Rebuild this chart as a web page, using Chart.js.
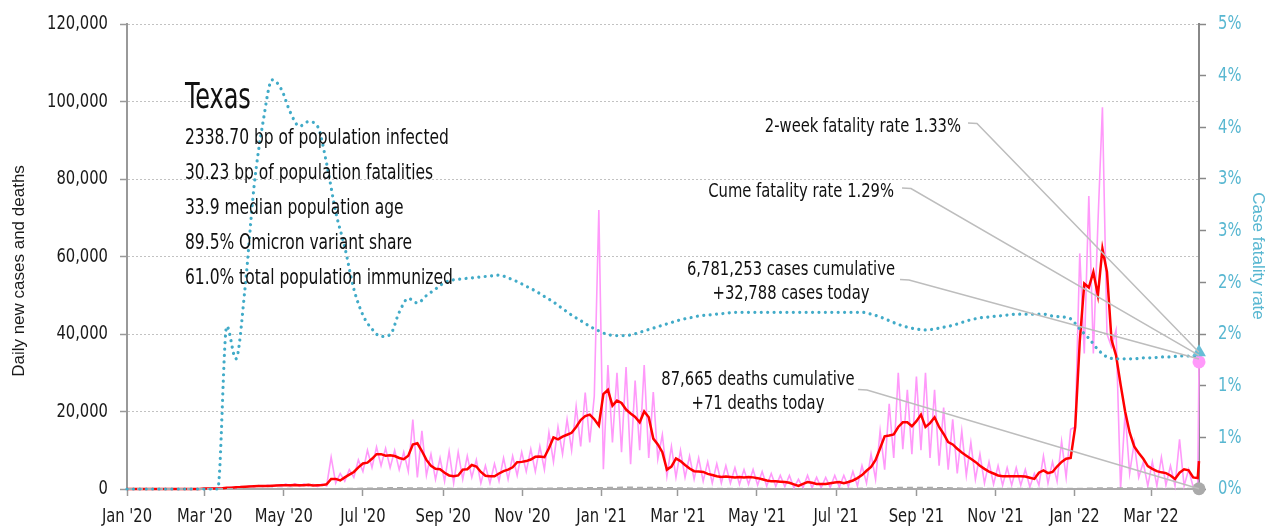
<!DOCTYPE html>
<html>
<head>
<meta charset="utf-8">
<title>Texas</title>
<script src="https://cdn.jsdelivr.net/npm/chart.js@4.4.1/dist/chart.umd.min.js"></script>
<style>
  html, body { margin: 0; padding: 0; background: #fff; }
  canvas { display: block; }
</style>
</head>
<body>
<canvas id="myChart" width="1278" height="529"></canvas>
<script>
const FONT = "'Liberation Sans Narrow', 'DejaVu Sans Condensed', Roboto, sans-serif";
const TITLE_FONT = "'Liberation Sans', Arial, sans-serif";
// the original face is a narrow grotesque, so most text is squeezed a little
const SQUEEZE = 0.82;

// x axis
const tickDates = ['2020-01-01', '2020-03-01', '2020-05-01', '2020-07-01', '2020-09-01', '2020-11-01', '2021-01-01',
    '2021-03-01', '2021-05-01', '2021-07-01', '2021-09-01', '2021-11-01', '2022-01-01', '2022-03-01'];
const tickLabels = ["Jan '20", "Mar '20", "May '20", "Jul '20", "Sep '20", "Nov '20", "Jan '21",
    "Mar '21", "May '21", "Jul '21", "Sep '21", "Nov '21", "Jan '22", "Mar '22"];
const caseTicks = [0, 20000, 40000, 60000, 80000, 100000, 120000];
const rateTickLabels = ['0%', '1%', '1%', '2%', '2%', '3%', '3%', '4%', '4%', '5%'];
const leftTitle = 'Daily new cases and deaths';
const rightTitle = 'Case fatality rate';

// series start on this date; cases are every half week, deaths and rate every week
const seriesStart = '2020-01-01';
const lastDate = '2022-04-07';

// daily new cases (weekly highs and lows, one every half week)
const dailyCases = [
    0, 0, 0, 0, 0, 0, 0, 0, 0, 0,
    0, 0, 0, 0, 0, 0, 0, 100, 50, 150,
    100, 250, 200, 450, 300, 600, 450, 800, 550, 900,
    600, 1000, 600, 1100, 700, 1300, 700, 1400, 700, 1300,
    800, 1200, 600, 1300, 800, 8200, 1500, 4000, 2000, 5000,
    3000, 7500, 4500, 10000, 5500, 10800, 6000, 10500, 5500, 10000,
    5000, 9500, 4500, 17900, 3000, 15000, 3500, 9000, 2500, 8000,
    2000, 9700, 1500, 9500, 2500, 8500, 3000, 7500, 1500, 6000,
    1500, 6500, 2000, 8000, 2500, 8500, 3500, 9500, 4500, 10300,
    4500, 11000, 5000, 14600, 7000, 16000, 9000, 18000, 10000, 21300,
    11000, 24900, 12000, 24000, 72000, 5100, 32000, 12000, 30000, 9500,
    31500, 6400, 28000, 10000, 32000, 8000, 25000, 7700, 14000, 3300,
    11000, 3000, 10000, 3000, 8500, 2500, 8000, 2000, 7000, 1500,
    6500, 1500, 6000, 1500, 5500, 1200, 5000, 1200, 5000, 1000,
    4500, 800, 4000, 700, 3500, 600, 3500, 300, 2500, 300,
    3500, 300, 3000, 300, 3000, 400, 3500, 500, 3500, 600,
    4500, 800, 6000, 1500, 9000, 2500, 15000, 5000, 22000, 8000,
    30000, 10300, 25600, 9000, 29000, 10000, 30000, 8000, 25600, 6000,
    21000, 5000, 18000, 4000, 15000, 3500, 12000, 2500, 9000, 1500,
    7000, 1200, 6000, 1000, 5500, 1000, 5500, 1000, 5000, 500,
    4000, 1000, 8500, 1500, 7000, 2000, 12300, 3000, 15400, 16000,
    60800, 35000, 75600, 35000, 68300, 98500, 40000, 36700, 41000, 0,
    19700, 4000, 12000, 3000, 6900, 800, 7000, 800, 8200, 1000,
    6000, 800, 12800, 800, 5000, 500, 500
];

// 7-day average of new cases, every half week
const avgCases = [
    0, 0, 0, 0, 0, 0, 0, 0, 0, 0,
    0, 0, 0, 0, 0, 0, 0, 100, 100, 100,
    150, 200, 300, 350, 450, 500, 600, 650, 700, 750,
    800, 800, 850, 900, 950, 1000, 1000, 1050, 1000, 1000,
    1100, 900, 950, 1000, 1200, 2600, 2600, 2200, 3000, 3700,
    4400, 5600, 6600, 6800, 7800, 9000, 9000, 8600, 8700, 8500,
    8000, 7700, 8600, 11500, 11800, 9800, 7500, 6000, 5200, 5100,
    4200, 3500, 3300, 3500, 5000, 5100, 6200, 5800, 4400, 3400,
    3300, 3300, 4000, 4600, 5000, 5600, 6900, 7000, 7200, 7600,
    8300, 8400, 8200, 10500, 13300, 12800, 13500, 14000, 14500, 16000,
    17800, 18800, 19200, 18000, 16400, 24500, 25600, 21500, 22800, 22200,
    20500, 19500, 18600, 17200, 20000, 18500, 13000, 11500, 9500, 5000,
    5800, 7900, 7200, 6200, 5300, 4600, 4500, 4400, 3900, 3600,
    3300, 3100, 3200, 3100, 3000, 3100, 3000, 3100, 3000, 2800,
    2500, 2200, 2000, 2000, 1900, 1800, 1600, 1200, 800, 1300,
    1800, 1600, 1300, 1300, 1300, 1500, 1700, 1800, 1500, 1800,
    2200, 2800, 3600, 4700, 5700, 7500, 10500, 13600, 13800, 14100,
    16000, 17200, 17200, 16200, 17500, 19200, 16000, 17000, 18500, 16000,
    14200, 12100, 11500, 10400, 9400, 8600, 7800, 7000, 6000, 5200,
    4500, 4000, 3500, 3300, 3300, 3300, 3300, 3300, 3200, 2900,
    2600, 4200, 4800, 4100, 4400, 5800, 7000, 7800, 8000, 16000,
    38000, 53000, 52000, 56000, 50000, 62000, 56000, 38500, 34500, 27000,
    20000, 14600, 11000, 9300, 7800, 5900, 5200, 4600, 4300, 4100,
    3500, 2600, 4200, 5100, 4800, 3000, 2800
];

// daily deaths, weekly
const weeklyDeaths = [
    0, 0, 0, 0, 0, 0, 0, 0, 0, 0, 0,
    5, 15, 30, 40, 45, 40, 35, 35, 30, 25,
    25, 30, 30, 40, 60, 100, 150, 180, 250, 230,
    220, 200, 170, 130, 110, 90, 80, 70, 65, 60,
    60, 65, 70, 80, 100, 120, 150, 180, 200, 220,
    240, 260, 320, 350, 380, 350, 330, 310, 290, 250,
    200, 150, 120, 90, 70, 60, 50, 45, 40, 35,
    30, 30, 25, 25, 25, 25, 25, 30, 40, 60,
    100, 150, 200, 250, 300, 330, 350, 350, 300, 250,
    200, 160, 130, 110, 90, 80, 70, 60, 55, 50,
    50, 50, 50, 60, 80, 120, 170, 200, 220, 210,
    180, 140, 100, 80, 60, 50, 40, 40
];

// case fatality rate in percent, weekly
const fatalityRate = [
    0, 0, 0, 0, 0, 0, 0, 0, 0, 0, 0,
    1.75, 1.4, 2.15, 3.25, 3.95, 4.4, 4.3, 4.05, 3.9, 3.95,
    3.9, 3.5, 2.98, 2.6, 2.15, 1.87, 1.72, 1.64, 1.66, 1.9,
    2.05, 2.0, 2.08, 2.15, 2.22, 2.25, 2.26, 2.27, 2.28, 2.29,
    2.3, 2.27, 2.23, 2.18, 2.13, 2.07, 2.01, 1.94, 1.87, 1.81,
    1.75, 1.7, 1.66, 1.65, 1.65, 1.67, 1.7, 1.73, 1.76, 1.79,
    1.82, 1.84, 1.86, 1.87, 1.88, 1.89, 1.9, 1.9, 1.9, 1.9,
    1.9, 1.9, 1.9, 1.9, 1.9, 1.9, 1.9, 1.9, 1.9, 1.9,
    1.9, 1.88, 1.85, 1.81, 1.77, 1.74, 1.72, 1.71, 1.72, 1.74,
    1.76, 1.79, 1.82, 1.84, 1.85, 1.86, 1.87, 1.88, 1.88, 1.88,
    1.88, 1.86, 1.85, 1.83, 1.72, 1.62, 1.5, 1.42, 1.4, 1.4,
    1.4, 1.41, 1.41, 1.42, 1.42, 1.43, 1.43, 1.43
];

// values on the last day
const lastCases = 32788;
const lastAvg = 7200;
const lastDeaths = 71;
const lastRate = 1.47;

const stateName = 'Texas';
const infoLines = [
    '2338.70 bp of population infected',
    '30.23 bp of population fatalities',
    '33.9 median population age',
    '89.5% Omicron variant share',
    '61.0% total population immunized'
];

const PINK = '#ff99fa';
const RED = '#ff0000';
const TEAL = '#41abc8';
const TEAL_LIGHT = '#58b7d1';
const GRAY = '#aaaaaa';

const dayOf = s => {
    const p = s.split('-').map(Number);
    return (Date.UTC(p[0], p[1] - 1, p[2]) - Date.UTC(2020, 0, 1)) / 864e5;
};
const firstDay = dayOf(seriesStart);
const lastDay = dayOf(lastDate);
const onGrid = (vals, step) => vals.map((v, i) => ({ x: firstDay + i * step, y: v }));

const casePts = onGrid(dailyCases, 3.5).concat([{ x: lastDay, y: lastCases }]);
const avgPts = onGrid(avgCases, 3.5).concat([{ x: lastDay, y: lastAvg }]);
const deathPts = onGrid(weeklyDeaths, 7).concat([{ x: lastDay, y: lastDeaths }]);
const ratePts = onGrid(fatalityRate, 7);

const fmt = v => String(Math.round(v)).replace(/\B(?=(\d{3})+(?!\d))/g, ',');

Chart.defaults.font.family = FONT;
Chart.defaults.color = '#1a1a1a';

const ctx = document.getElementById('myChart').getContext('2d');

// narrow text: squeeze every string horizontally around its anchor
const rawFill = ctx.fillText.bind(ctx);
const rawMeasure = ctx.measureText.bind(ctx);
ctx.fillText = function (t, x, y, maxW) {
    this.save();
    this.translate(x, y);
    this.scale(SQUEEZE, 1);
    if (maxW === undefined) rawFill(t, 0, 0);
    else rawFill(t, 0, 0, maxW / SQUEEZE);
    this.restore();
};
ctx.measureText = function (t) {
    const m = rawMeasure(t);
    return {
        width: m.width * SQUEEZE,
        actualBoundingBoxAscent: m.actualBoundingBoxAscent,
        actualBoundingBoxDescent: m.actualBoundingBoxDescent,
        actualBoundingBoxLeft: m.actualBoundingBoxLeft * SQUEEZE,
        actualBoundingBoxRight: m.actualBoundingBoxRight * SQUEEZE
    };
};

const notes = {
    id: 'notes',
    afterDatasetsDraw(chart) {
        const c = chart.ctx;
        const { x, y, y2 } = chart.scales;
        const ex = x.getPixelForValue(lastDay);
        const triY = y2.getPixelForValue(lastRate);
        const caseY = y.getPixelForValue(lastCases);
        const deathY = y.getPixelForValue(lastDeaths);

        c.save();
        c.strokeStyle = '#bdbdbd';
        c.lineWidth = 1.5;
        const lead = (x0, y0, x1, y1) => {
            c.beginPath();
            c.moveTo(x0, y0);
            c.lineTo(x0 + 9, y0 + 0.5);
            c.lineTo(x1, y1);
            c.stroke();
        };
        lead(968, 123, ex, triY);
        lead(902, 188, ex, triY + 3);
        lead(900, 279.5, ex, caseY - 3);
        lead(858, 389.5, ex, deathY);

        c.fillStyle = '#111';
        c.textBaseline = 'alphabetic';
        c.font = '20px ' + FONT;
        c.textAlign = 'right';
        c.fillText('2-week fatality rate 1.33%', 961, 132);
        c.fillText('Cume fatality rate 1.29%', 894, 197);
        c.textAlign = 'center';
        c.fillText('6,781,253 cases cumulative', 791, 275);
        c.fillText('+32,788 cases today', 791, 299);
        c.fillText('87,665 deaths cumulative', 758, 385);
        c.fillText('+71 deaths today', 758, 409);

        c.textAlign = 'left';
        c.font = '21px ' + FONT;
        infoLines.forEach((t, i) => c.fillText(t, 185, 144 + i * 35));

        c.save();
        c.translate(185, 108);
        c.scale(0.93, 1);
        c.font = '35px ' + FONT;
        c.fillText(stateName, 0, 0);
        c.restore();

        // axis titles, in a regular width face
        c.font = '17px ' + TITLE_FONT;
        c.textAlign = 'center';
        c.textBaseline = 'middle';
        c.save();
        c.translate(19, 271);
        c.rotate(-Math.PI / 2);
        c.fillStyle = '#1a1a1a';
        rawFill(leftTitle, 0, 0);
        c.restore();
        c.save();
        c.translate(1258, 256);
        c.rotate(Math.PI / 2);
        c.fillStyle = TEAL_LIGHT;
        rawFill(rightTitle, 0, 0);
        c.restore();
        c.restore();
    }
};

const data = {
    datasets: [{
        label: '2-week fatality rate',
        data: [{ x: lastDay, y: lastRate }],
        yAxisID: 'y2',
        showLine: false,
        pointStyle: 'triangle',
        pointRadius: 8,
        pointBackgroundColor: '#66bdd6',
        pointBorderWidth: 0,
        clip: false,
        order: 0
    }, {
        label: 'Case fatality rate',
        data: ratePts,
        yAxisID: 'y2',
        borderColor: TEAL,
        borderWidth: 3.2,
        borderDash: [0.01, 6.4],
        borderCapStyle: 'round',
        cubicInterpolationMode: 'monotone',
        pointRadius: 0,
        clip: false,
        order: 1
    }, {
        label: 'Deaths',
        data: deathPts,
        yAxisID: 'y',
        borderColor: GRAY,
        borderWidth: 2,
        borderDash: [6, 4],
        pointRadius: c => (c.dataIndex === deathPts.length - 1 ? 6.5 : 0),
        pointBackgroundColor: GRAY,
        pointBorderWidth: 0,
        clip: false,
        order: 2
    }, {
        label: '7-day average',
        data: avgPts,
        yAxisID: 'y',
        borderColor: RED,
        borderWidth: 2.5,
        pointRadius: 0,
        clip: false,
        order: 3
    }, {
        label: 'New cases',
        data: casePts,
        yAxisID: 'y',
        borderColor: PINK,
        borderWidth: 1.6,
        pointRadius: c => (c.dataIndex === casePts.length - 1 ? 6.5 : 0),
        pointBackgroundColor: PINK,
        pointBorderWidth: 0,
        clip: false,
        order: 4
    }]
};

const config = {
    type: 'line',
    data: data,
    options: {
        responsive: false,
        animation: false,
        devicePixelRatio: 1,
        layout: { padding: { top: 22, left: 0, right: 0, bottom: 0 } },
        plugins: {
            legend: { display: false },
            tooltip: { enabled: false }
        },
        scales: {
            x: {
                type: 'linear',
                min: 0,
                max: lastDay,
                afterBuildTicks: s => { s.ticks = tickDates.map(d => ({ value: dayOf(d) })); },
                afterFit: s => { s.height = 40; },
                ticks: {
                    callback: (v, i) => tickLabels[i],
                    font: { size: 20 },
                    color: '#1a1a1a',
                    padding: 9,
                    maxRotation: 0,
                    autoSkip: false
                },
                grid: { drawOnChartArea: false, tickLength: 7, tickColor: '#9a9a9a', tickWidth: 1.5 },
                border: { color: '#aaaaaa', width: 2 }
            },
            y: {
                position: 'left',
                min: 0,
                max: 120000,
                afterBuildTicks: s => { s.ticks = caseTicks.map(v => ({ value: v })); },
                afterFit: s => { s.width = 127; },
                ticks: { callback: v => fmt(v), font: { size: 20 }, color: '#1a1a1a', padding: 12 },
                grid: { color: '#c2c2c2', lineWidth: 1, tickColor: '#999999', tickLength: 7, tickWidth: 1.5 },
                border: { color: '#999999', width: 2, dash: [2, 2] }
            },
            y2: {
                position: 'right',
                min: 0,
                max: 5,
                afterBuildTicks: s => {
                    s.ticks = rateTickLabels.map((t, i) => ({ value: i * 5 / (rateTickLabels.length - 1) }));
                },
                afterFit: s => { s.width = 79; },
                ticks: {
                    callback: (v, i) => rateTickLabels[i],
                    font: { size: 20 },
                    color: TEAL_LIGHT,
                    padding: 12
                },
                grid: { drawOnChartArea: false, tickColor: '#888888', tickLength: 7, tickWidth: 1.5 },
                border: { color: '#888888', width: 2 }
            }
        }
    },
    plugins: [notes]
};

const myChart = new Chart(ctx, config);
</script>
</body>
</html>
